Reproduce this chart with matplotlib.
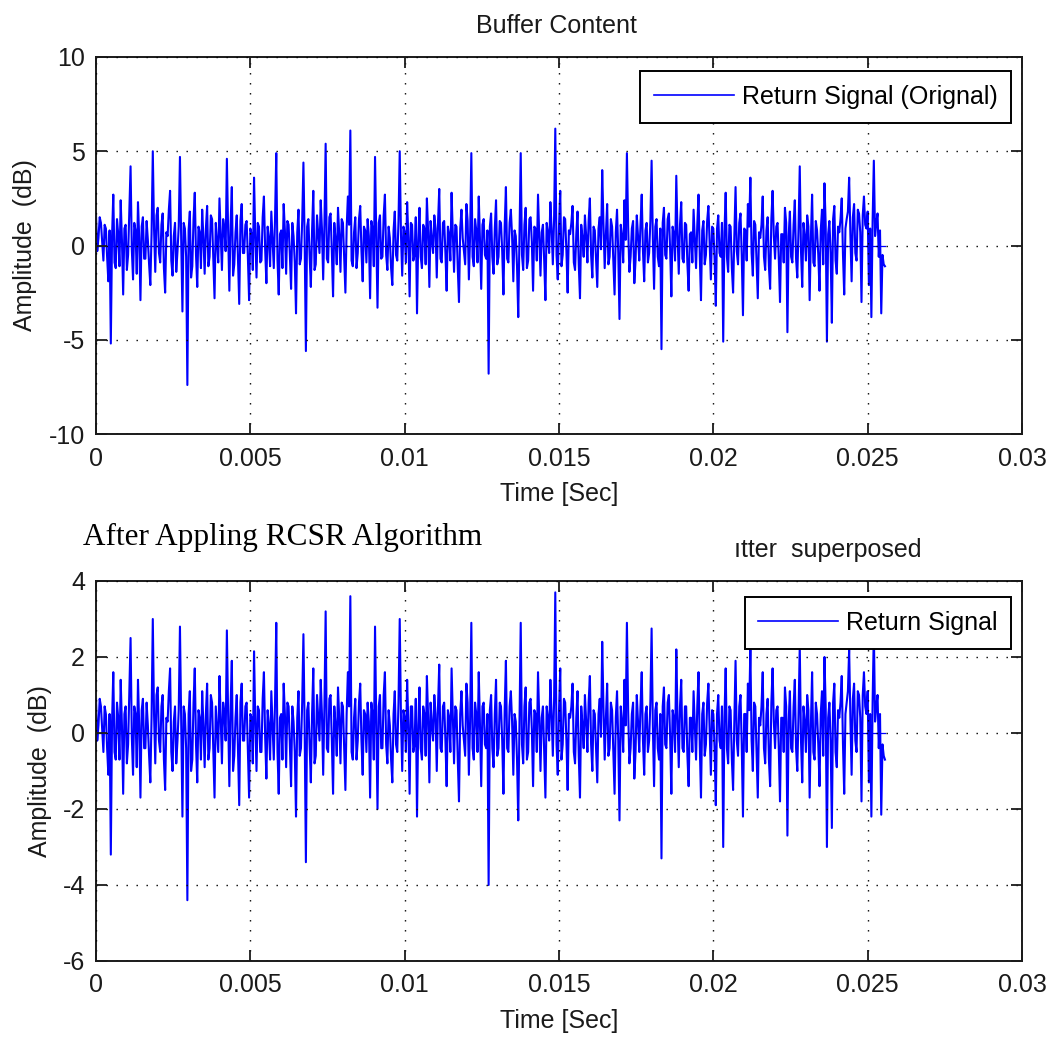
import numpy as np
import matplotlib
matplotlib.use("Agg")
import matplotlib.pyplot as plt

# sample spacing of the buffer (s)
sample_step = 0.04e-3

# return signal before processing (dB)
signal_original = [
    1.6, -0.3, 0.4, 1.5, 1.2, 0.2, -0.8, 1.1, 0.9, -0.6, -1.9, 0.8, -5.2, 0.5, 2.7, -0.9, -1.2, 1.4, 0.6, -1.1,
    2.4, 0.3, -2.6, 0.9, 1.1, -1.3, -0.5, 1.8, 4.2, -0.2, -1.8, 1.2, 0.8, -1.5, 2.3, 0.4, -2.9, 1.0, 1.5, -0.7,
    -0.7, 1.3, 0.3, -1.0, -2.1, 0.6, 5.0, 0.9, -1.4, 1.6, 2.0, -0.4, -0.9, 1.1, 1.7, -1.2, -2.5, 0.7, 0.5, 1.9,
    2.9, -0.8, -1.6, 0.5, 1.2, -1.4, -0.3, 1.0, 4.7, 0.3, -3.5, 1.2, 0.9, -0.6, -7.4, 0.8, 1.8, -1.7, -1.1, 1.4,
    2.8, -0.5, -2.2, 1.0, 0.7, -1.2, 1.9, 0.4, -1.5, 0.9, 2.1, -1.1, -0.6, 1.6, 1.4, -0.7, -2.8, 1.2, 0.2, -0.9,
    2.5, 0.6, -1.3, 1.4, 0.9, -0.3, 4.6, 0.8, -2.4, 1.1, 3.1, -1.6, -1.0, 0.7, 1.6, -0.8, -3.1, 1.3, 2.2, -0.4,
    -0.4, 1.1, 1.3, -0.6, -2.9, 0.9, 0.6, -1.3, 3.6, 0.5, -1.7, 1.2, 1.0, -0.9, -0.8, 1.5, 2.6, -0.2, -2.0, 1.0,
    0.4, -1.1, 1.8, 0.3, -1.2, 1.4, 4.9, -0.8, -2.6, 0.6, 0.8, -1.2, 2.2, 0.8, -1.5, 1.3, 1.1, -0.5, -2.3, 1.2,
    0.5, -0.9, -3.6, 0.7, 1.9, -1.0, -0.7, 1.3, 4.4, 0.2, -5.6, 1.0, 1.4, -0.5, -2.2, 0.8, 2.9, -1.3, -1.0, 1.6,
    0.6, -0.4, 2.4, 0.9, -1.8, 1.1, 5.4, -0.7, -0.9, 1.5, 1.7, -0.3, -2.7, 1.2, 0.3, -1.0, 2.0, 0.6, -1.4, 1.4,
    1.2, -0.6, -2.5, 0.9, 2.6, 1.1, 6.1, -0.8, -1.1, 0.7, 1.5, -1.2, -0.4, 1.4, 2.1, -0.3, -1.9, 1.0, 0.8, -0.9,
    1.4, 0.5, -2.8, 1.3, 0.9, -1.1, 4.7, 0.4, -3.3, 1.2, 1.6, -0.7, -0.6, 1.6, 2.7, -0.5, -1.3, 1.0, 0.4, -1.2,
    -2.1, 0.8, 1.8, -0.5, -0.8, 1.3, 5.0, 0.6, -1.6, 1.0, 0.7, -0.9, 2.3, 0.4, -2.7, 1.2, 1.1, -0.8, -0.5, 1.5,
    -3.6, 0.3, 2.0, -0.6, -1.2, 1.1, 0.9, -1.0, 2.5, 0.7, -2.2, 1.3, 0.3, -0.4, 1.6, 0.9, -1.7, 1.2, 3.0, -0.7,
    -0.9, 1.2, 1.3, -0.4, -2.4, 1.0, 0.6, -0.8, 2.8, 0.6, -1.4, 1.1, 1.0, -1.2, -3.0, 0.9, 1.9, 0.4, -0.3, -1.0,
    2.2, 1.3, -1.8, 0.5, 4.9, -0.6, -1.1, 1.4, 0.8, -0.9, 2.6, 0.3, -2.3, 1.1, 1.4, -0.5, -0.7, 0.8, -6.8, 1.0,
    1.7, -0.6, -1.5, 0.9, 2.4, -1.0, -0.6, 1.3, 1.2, -0.3, -2.6, 1.0, 3.1, -0.7, -0.9, 1.2, 1.9, 0.5, -1.9, 0.8,
    0.5, -1.1, -3.8, 0.7, 4.9, -0.5, -1.3, 1.1, 2.0, -1.2, -0.8, 1.4, 1.5, 0.2, -2.4, 1.0, 0.9, -0.8, 2.7, 0.6,
    -1.6, 0.7, 1.1, -0.8, -2.9, 1.2, 0.7, -0.4, 2.3, 0.9, -1.0, 1.3, 6.2, -0.5, -1.8, 1.0, 2.9, -1.1, -0.5, 1.5,
    1.4, -0.3, -2.5, 0.8, 0.6, 1.2, 2.1, -0.9, -1.3, 0.6, 1.8, -1.0, -2.8, 1.1, 0.4, -0.6, 1.6, 0.5, -0.9, 1.3,
    2.5, -0.5, -1.7, 1.0, 0.8, -0.7, -2.2, 0.9, 1.5, -0.2, 4.0, 1.2, -1.2, 0.6, 2.2, -1.0, -0.6, 1.4, 1.0, -0.8,
    -2.6, 0.7, 1.9, -0.4, -3.9, 1.1, 0.5, -0.9, 2.4, 0.3, 4.9, 1.0, -1.4, -0.6, 0.9, 1.3, -2.0, -0.8, 1.6, 0.5,
    -0.8, 1.1, 2.7, -0.3, -1.9, 0.8, 1.2, -0.9, -0.4, 1.3, 4.5, 0.4, -2.3, 1.0, 1.4, -0.6, -1.1, 0.9, -5.5, 1.2,
    2.0, -0.5, -0.7, 1.4, 1.7, -0.2, -2.7, 1.0, 0.6, -0.8, 3.7, 0.6, -1.5, 1.1, 2.3, -0.7, -0.9, 1.2, 1.1, -1.0,
    -2.4, 0.6, 0.7, -0.9, 1.9, 0.4, -1.2, 1.1, 2.7, -0.5, -2.9, 0.8, 1.3, -1.0, -0.5, 1.3, 2.1, 0.2, -1.8, 1.0,
    0.9, -0.7, -3.2, 0.9, 1.6, -0.4, -0.6, 1.2, -5.1, 0.7, 2.8, -0.6, -1.4, 1.1, 1.0, -1.2, -2.5, 0.5, 3.1, -0.3,
    -1.0, 1.2, 1.7, -0.5, -3.7, 0.9, 0.8, -0.8, 2.2, 1.0, 3.6, -0.4, -1.6, 1.3, 1.1, -0.9, -2.8, 0.7, 0.4, 1.1,
    2.6, -0.6, -1.3, 0.8, 1.5, -1.1, -2.3, 1.4, 2.9, 0.5, -0.7, 1.0, 1.2, -0.7, -3.0, 0.6, 0.6, -0.9, 2.0, 1.2,
    -4.6, 0.5, 1.8, -0.6, -0.9, 1.1, 2.4, -0.7, -1.7, 0.9, 4.2, -0.3, -2.2, 1.2, 0.5, -0.8, 1.6, 1.0, -2.9, 0.4,
    2.7, -0.9, -1.1, 1.3, 0.8, -0.5, -2.4, 0.8, 1.9, -1.0, 3.3, 1.1, -5.1, 0.6, 1.3, -0.4, -4.1, 1.4, 2.1, -0.8,
    -1.5, 1.0, 0.7, 1.4, 2.5, -0.5, -2.6, 0.9, 1.4, 1.8, 3.6, 0.6, -1.9, 1.5, 2.2, -0.4, -0.8, 1.9, 1.7, 0.7,
    -3.0, 1.6, 2.6, 1.1, 0.9, 1.8, -2.1, 0.9, -3.8, 1.3, 4.5, 0.5, 1.2, 1.7, -0.6, 0.8, -3.6, -0.5, -1.0, -1.1,
]

# return signal after the RCSR algorithm (dB)
signal_rcsr = [
    0.9, -0.2, 0.2, 0.9, 0.7, 0.1, -0.5, 0.7, 0.5, -0.4, -1.1, 0.5, -3.2, 0.3, 1.6, -0.5, -0.7, 0.8, 0.4, -0.7,
    1.4, 0.2, -1.6, 0.5, 0.7, -0.8, -0.3, 1.1, 2.5, -0.1, -1.1, 0.7, 0.5, -0.9, 1.4, 0.2, -1.7, 0.6, 0.9, -0.4,
    -0.4, 0.8, 0.2, -0.6, -1.3, 0.4, 3.0, 0.5, -0.8, 1.0, 1.2, -0.2, -0.5, 0.7, 1.0, -0.7, -1.5, 0.4, 0.3, 1.1,
    1.7, -0.5, -1.0, 0.3, 0.7, -0.8, -0.2, 0.6, 2.8, 0.2, -2.2, 0.7, 0.5, -0.4, -4.4, 0.5, 1.1, -1.0, -0.7, 0.8,
    1.7, -0.3, -1.3, 0.6, 0.4, -0.7, 1.1, 0.2, -0.9, 0.5, 1.3, -0.7, -0.4, 1.0, 0.8, -0.4, -1.7, 0.7, 0.1, -0.5,
    1.5, 0.4, -0.8, 0.8, 0.5, -0.2, 2.7, 0.5, -1.4, 0.7, 1.9, -1.0, -0.6, 0.4, 1.0, -0.5, -1.9, 0.8, 1.3, -0.2,
    -0.2, 0.7, 0.8, -0.4, -1.7, 0.5, 0.4, -0.8, 2.15, 0.3, -1.0, 0.7, 0.6, -0.5, -0.5, 0.9, 1.6, -0.1, -1.2, 0.6,
    0.2, -0.7, 1.1, 0.2, -0.7, 0.8, 2.9, -0.5, -1.6, 0.4, 0.5, -0.7, 1.3, 0.5, -0.9, 0.8, 0.7, -0.3, -1.4, 0.7,
    0.3, -0.5, -2.2, 0.4, 1.1, -0.6, -0.4, 0.8, 2.6, 0.1, -3.4, 0.6, 0.8, -0.3, -1.3, 0.5, 1.7, -0.8, -0.6, 1.0,
    0.4, -0.2, 1.4, 0.5, -1.1, 0.7, 3.2, -0.4, -0.5, 0.9, 1.0, -0.2, -1.6, 0.7, 0.2, -0.6, 1.2, 0.4, -0.8, 0.8,
    0.7, -0.4, -1.5, 0.5, 1.6, 0.7, 3.6, -0.5, -0.7, 0.4, 0.9, -0.7, -0.2, 0.8, 1.3, -0.2, -1.1, 0.6, 0.5, -0.5,
    0.8, 0.3, -1.7, 0.8, 0.5, -0.7, 2.8, 0.2, -2.0, 0.7, 1.0, -0.4, -0.4, 1.0, 1.6, -0.3, -0.8, 0.6, 0.2, -0.7,
    -1.3, 0.5, 1.1, -0.3, -0.5, 0.8, 3.0, 0.4, -1.0, 0.6, 0.4, -0.5, 1.4, 0.2, -1.6, 0.7, 0.7, -0.5, -0.3, 0.9,
    -2.2, 0.2, 1.2, -0.4, -0.7, 0.7, 0.5, -0.6, 1.5, 0.4, -1.3, 0.8, 0.2, -0.2, 1.0, 0.5, -1.0, 0.7, 1.8, -0.4,
    -0.5, 0.7, 0.8, -0.2, -1.4, 0.6, 0.4, -0.5, 1.7, 0.4, -0.8, 0.7, 0.6, -0.7, -1.8, 0.5, 1.1, 0.2, -0.2, -0.6,
    1.3, 0.8, -1.1, 0.3, 2.9, -0.4, -0.7, 0.8, 0.5, -0.5, 1.6, 0.2, -1.4, 0.7, 0.8, -0.3, -0.4, 0.5, -4.0, 0.6,
    1.0, -0.4, -0.9, 0.5, 1.4, -0.6, -0.4, 0.8, 0.7, -0.2, -1.6, 0.6, 1.9, -0.4, -0.5, 0.7, 1.1, 0.3, -1.1, 0.5,
    0.3, -0.7, -2.3, 0.4, 2.9, -0.3, -0.8, 0.7, 1.2, -0.7, -0.5, 0.8, 0.9, 0.1, -1.4, 0.6, 0.5, -0.5, 1.6, 0.4,
    -1.0, 0.4, 0.7, -0.5, -1.7, 0.7, 0.4, -0.2, 1.4, 0.5, -0.6, 0.8, 3.7, -0.3, -1.1, 0.6, 1.7, -0.7, -0.3, 0.9,
    0.8, -0.2, -1.5, 0.5, 0.4, 0.7, 1.3, -0.5, -0.8, 0.4, 1.1, -0.6, -1.7, 0.7, 0.2, -0.4, 1.0, 0.3, -0.5, 0.8,
    1.5, -0.3, -1.0, 0.6, 0.5, -0.4, -1.3, 0.5, 0.9, -0.1, 2.4, 0.7, -0.7, 0.4, 1.3, -0.6, -0.4, 0.8, 0.6, -0.5,
    -1.6, 0.4, 1.1, -0.2, -2.3, 0.7, 0.3, -0.5, 1.4, 0.2, 2.9, 0.6, -0.8, -0.4, 0.5, 0.8, -1.2, -0.5, 1.0, 0.3,
    -0.5, 0.7, 1.6, -0.2, -1.1, 0.5, 0.7, -0.5, -0.2, 0.8, 2.75, 0.2, -1.4, 0.6, 0.8, -0.4, -0.7, 0.5, -3.3, 0.7,
    1.2, -0.3, -0.4, 0.8, 1.0, -0.1, -1.6, 0.6, 0.4, -0.5, 2.2, 0.4, -0.9, 0.7, 1.4, -0.4, -0.5, 0.7, 0.7, -0.6,
    -1.4, 0.4, 0.4, -0.5, 1.1, 0.2, -0.7, 0.7, 1.6, -0.3, -1.7, 0.5, 0.8, -0.6, -0.3, 0.8, 1.3, 0.1, -1.1, 0.6,
    0.5, -0.4, -1.9, 0.5, 1.0, -0.2, -0.4, 0.7, -3.0, 0.4, 1.7, -0.4, -0.8, 0.7, 0.6, -0.7, -1.5, 0.3, 1.9, -0.2,
    -0.6, 0.7, 1.0, -0.3, -2.2, 0.5, 0.5, -0.5, 1.3, 0.6, 2.2, -0.2, -1.0, 0.8, 0.7, -0.5, -1.7, 0.4, 0.2, 0.7,
    1.6, -0.4, -0.8, 0.5, 0.9, -0.7, -1.4, 0.8, 1.7, 0.3, -0.4, 0.6, 0.7, -0.4, -1.8, 0.4, 0.4, -0.5, 1.2, 0.7,
    -2.7, 0.3, 1.1, -0.4, -0.5, 0.7, 1.4, -0.4, -1.0, 0.5, 2.3, -0.2, -1.3, 0.7, 0.3, -0.5, 1.0, 0.6, -1.7, 0.2,
    1.6, -0.5, -0.7, 0.8, 0.5, -0.3, -1.4, 0.5, 1.1, -0.6, 2.0, 0.7, -3.0, 0.4, 0.8, -0.2, -2.5, 0.8, 1.3, -0.5,
    -0.9, 0.6, 0.4, 0.8, 1.5, -0.3, -1.6, 0.5, 0.8, 1.1, 2.2, 0.4, -1.1, 0.9, 1.3, -0.2, -0.5, 1.1, 1.0, 0.4,
    -1.8, 1.0, 1.6, 0.7, 0.5, 1.1, -1.3, 0.5, -2.2, 0.8, 2.7, 0.3, 0.7, 1.0, -0.4, 0.5, -2.15, -0.3, -0.6, -0.7,
]

x_ticks = [0, 0.005, 0.01, 0.015, 0.02, 0.025, 0.03]
x_tick_labels = ["0", "0.005", "0.01", "0.015", "0.02", "0.025", "0.03"]
top_y_ticks = [-10, -5, 0, 5, 10]
top_y_labels = ["-10", "-5", "0", "5", "10"]
bottom_y_ticks = [-6, -4, -2, 0, 2, 4]
bottom_y_labels = ["-6", "-4", "-2", "0", "2", "4"]

TXT = "#1a1a1a"
BLUE = "#0000ff"
FS = 18

plt.rcParams["font.family"] = ["Liberation Sans", "DejaVu Sans"]


def style_axes(ax, yticks, ylabels, label_x):
    ax.set_xlim(0, 0.03)
    ax.set_ylim(yticks[0], yticks[-1])
    ax.set_xticks(x_ticks)
    ax.set_xticklabels(x_tick_labels)
    ax.set_yticks(yticks)
    ax.set_yticklabels(ylabels)
    ax.tick_params(direction="in", length=8, width=1.3, top=True, right=True,
                   labelsize=FS, labelcolor=TXT, color=TXT)
    ax.tick_params(axis="x", pad=9)
    ax.tick_params(axis="y", pad=8)
    for sp in ax.spines.values():
        sp.set_linewidth(1.4)
        sp.set_color(TXT)
    ax.set_axisbelow(False)
    ax.grid(True, color="black", linewidth=1.0, linestyle=(0, (1, 6.2)))
    ax.set_xlabel("Time [Sec]", fontsize=FS, color=TXT, labelpad=8)
    ax.set_ylabel("Amplitude  (dB)", fontsize=FS, color=TXT, va="center")
    ax.yaxis.set_label_coords(label_x, 0.5)


def add_legend(ax, top_gap):
    leg = ax.legend(loc="upper right", bbox_to_anchor=(1 - 11 / 926, 1 - top_gap),
                    borderaxespad=0, fontsize=FS, fancybox=False, framealpha=1,
                    edgecolor="black", handlelength=3.2, handletextpad=0.3,
                    borderpad=0.55)
    leg.get_frame().set_linewidth(1.4)
    for h in leg.get_lines():
        h.set_linewidth(1.2)


fig = plt.figure(figsize=(10.59, 10.40), dpi=100)
W, H = 1059, 1040
ax1 = fig.add_axes([96 / W, 1 - 434 / H, 926 / W, 377 / H])
ax2 = fig.add_axes([96 / W, 1 - 961 / H, 926 / W, 380 / H])

t = np.arange(len(signal_original)) * sample_step

ax1.plot(t, signal_original, color=BLUE, linewidth=1.5, label="Return Signal (Orignal)")
ax1.plot([t[0], t[-1]], [0, 0], color=BLUE, linewidth=0.9)
style_axes(ax1, top_y_ticks, top_y_labels, (25 - 96) / 926)
add_legend(ax1, 14 / 377)

ax2.plot(t, signal_rcsr, color=BLUE, linewidth=1.5, label="Return Signal")
ax2.plot([t[0], t[-1]], [0, 0], color=BLUE, linewidth=0.9)
style_axes(ax2, bottom_y_ticks, bottom_y_labels, (40 - 96) / 926)
add_legend(ax2, 16 / 380)

fig.text(556 / W, 1 - 33 / H, "Buffer Content", fontsize=FS, color=TXT,
         ha="center", va="baseline")
fig.text(734 / W, 1 - 557 / H, "\u0131tter  superposed", fontsize=FS, color=TXT,
         ha="left", va="baseline")
fig.text(83 / W, 1 - 545 / H, "After Appling RCSR Algorithm", fontsize=22.5,
         family="Liberation Serif", color="black", ha="left", va="baseline")

fig.savefig("out.png", dpi=100, facecolor="white")
